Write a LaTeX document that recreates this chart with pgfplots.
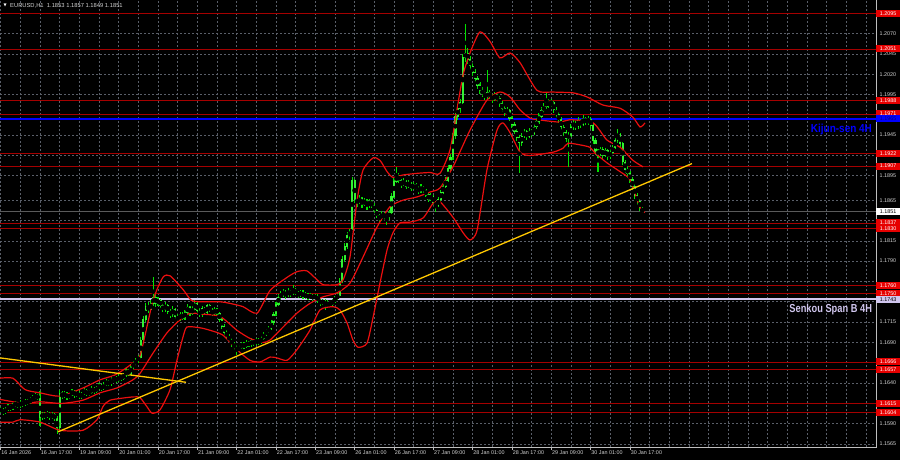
\documentclass[border=0pt]{standalone}
\usepackage{fontspec}
\setmainfont{Liberation Sans}
\newfontfamily\dejavu{DejaVu Sans}
\usepackage{pgfplots}
\usepackage{pgfplotstable}
\pgfplotsset{compat=1.18}
\definecolor{cg}{RGB}{0,225,0}
\definecolor{cgb}{RGB}{50,240,50}
\definecolor{bbred}{RGB}{235,15,15}
\definecolor{lvl}{RGB}{165,0,0}
\definecolor{boxred}{RGB}{230,0,0}
\definecolor{gridc}{RGB}{90,95,105}
\definecolor{tickc}{RGB}{210,210,210}
\definecolor{framec}{RGB}{190,190,190}
\definecolor{kblue}{RGB}{0,0,255}
\definecolor{navy}{RGB}{0,0,130}
\definecolor{lav}{RGB}{208,198,238}
\definecolor{yel}{RGB}{255,200,0}
\definecolor{bidc}{RGB}{90,90,90}
\newcommand\pfont{\fontsize{5.4}{6}\selectfont}
\newcommand\tfont{\fontsize{5.4}{6}\selectfont}

\pgfplotstableread{
i o h l c
1 1.1608 1.1611 1.1603 1.1606
2 1.1606 1.1609 1.1601 1.1604
3 1.1604 1.1610 1.1602 1.1608
4 1.1608 1.1614 1.1606 1.1611
5 1.1611 1.1613 1.1606 1.1609
6 1.1609 1.1616 1.1607 1.1613
7 1.1613 1.1618 1.1611 1.1615
8 1.1615 1.1617 1.1609 1.1612
9 1.1612 1.1619 1.1610 1.1616
10 1.1616 1.1618 1.1611 1.1614
11 1.1614 1.1621 1.1612 1.1618
12 1.1618 1.1620 1.1613 1.1616
13 1.1616 1.1623 1.1614 1.1620
14 1.1620 1.1625 1.1618 1.1622
15 1.1622 1.1628 1.1620 1.1625
16 1.1625 1.1627 1.1619 1.1621
17 1.1621 1.1630 1.1587 1.1598
18 1.1598 1.1605 1.1595 1.1602
19 1.1602 1.1604 1.1596 1.1599
20 1.1599 1.1606 1.1597 1.1603
21 1.1603 1.1605 1.1595 1.1598
22 1.1598 1.1604 1.1596 1.1601
23 1.1601 1.1603 1.1594 1.1597
24 1.1597 1.1600 1.1577 1.1585
25 1.1585 1.1632 1.1583 1.1628
26 1.1628 1.1630 1.1620 1.1624
27 1.1624 1.1630 1.1622 1.1627
28 1.1627 1.1629 1.1619 1.1622
29 1.1622 1.1628 1.1620 1.1626
30 1.1626 1.1633 1.1624 1.1630
31 1.1630 1.1632 1.1622 1.1625
32 1.1625 1.1631 1.1623 1.1628
33 1.1628 1.1630 1.1620 1.1623
34 1.1623 1.1629 1.1621 1.1627
35 1.1627 1.1634 1.1625 1.1631
36 1.1631 1.1633 1.1624 1.1626
37 1.1626 1.1632 1.1624 1.1629
38 1.1629 1.1636 1.1627 1.1633
39 1.1633 1.1635 1.1627 1.1630
40 1.1630 1.1637 1.1628 1.1634
41 1.1634 1.1640 1.1632 1.1637
42 1.1637 1.1639 1.1630 1.1633
43 1.1633 1.1641 1.1631 1.1638
44 1.1638 1.1645 1.1636 1.1642
45 1.1642 1.1644 1.1636 1.1639
46 1.1639 1.1647 1.1637 1.1644
47 1.1644 1.1650 1.1642 1.1647
48 1.1647 1.1649 1.1640 1.1643
49 1.1643 1.1651 1.1641 1.1648
50 1.1648 1.1650 1.1643 1.1646
51 1.1646 1.1653 1.1644 1.1650
52 1.1650 1.1658 1.1648 1.1655
53 1.1655 1.1657 1.1649 1.1652
54 1.1652 1.1663 1.1650 1.1660
55 1.1660 1.1667 1.1657 1.1664
56 1.1664 1.1671 1.1661 1.1668
57 1.1668 1.1675 1.1665 1.1672
58 1.1672 1.1697 1.1670 1.1693
59 1.1693 1.1722 1.1690 1.1718
60 1.1718 1.1738 1.1715 1.1734
61 1.1734 1.1740 1.1726 1.1730
62 1.1730 1.1742 1.1728 1.1738
63 1.1738 1.1770 1.1735 1.1745
64 1.1745 1.1750 1.1734 1.1738
65 1.1738 1.1746 1.1735 1.1742
66 1.1742 1.1744 1.1732 1.1735
67 1.1735 1.1738 1.1727 1.1730
68 1.1730 1.1740 1.1728 1.1736
69 1.1736 1.1738 1.1725 1.1728
70 1.1728 1.1731 1.1720 1.1724
71 1.1724 1.1735 1.1722 1.1731
72 1.1731 1.1733 1.1719 1.1722
73 1.1722 1.1725 1.1714 1.1718
74 1.1718 1.1728 1.1716 1.1725
75 1.1725 1.1727 1.1717 1.1720
76 1.1720 1.1730 1.1718 1.1727
77 1.1727 1.1737 1.1725 1.1733
78 1.1733 1.1735 1.1723 1.1726
79 1.1726 1.1735 1.1724 1.1731
80 1.1731 1.1742 1.1729 1.1738
81 1.1738 1.1740 1.1726 1.1729
82 1.1729 1.1732 1.1721 1.1724
83 1.1724 1.1735 1.1722 1.1732
84 1.1732 1.1734 1.1724 1.1727
85 1.1727 1.1738 1.1725 1.1735
86 1.1735 1.1737 1.1727 1.1730
87 1.1730 1.1732 1.1722 1.1725
88 1.1725 1.1734 1.1723 1.1731
89 1.1731 1.1733 1.1723 1.1726
90 1.1726 1.1728 1.1715 1.1718
91 1.1718 1.1720 1.1707 1.1710
92 1.1710 1.1713 1.1699 1.1702
93 1.1702 1.1705 1.1695 1.1698
94 1.1698 1.1700 1.1690 1.1693
95 1.1693 1.1696 1.1685 1.1688
96 1.1688 1.1691 1.1681 1.1684
97 1.1684 1.1687 1.1675 1.1680
98 1.1680 1.1687 1.1678 1.1684
99 1.1684 1.1691 1.1682 1.1688
100 1.1688 1.1690 1.1682 1.1685
101 1.1685 1.1693 1.1683 1.1690
102 1.1690 1.1692 1.1684 1.1687
103 1.1687 1.1695 1.1685 1.1692
104 1.1692 1.1694 1.1686 1.1689
105 1.1689 1.1696 1.1687 1.1693
106 1.1693 1.1695 1.1687 1.1690
107 1.1690 1.1698 1.1688 1.1695
108 1.1695 1.1703 1.1693 1.1700
109 1.1700 1.1707 1.1698 1.1704
110 1.1704 1.1710 1.1701 1.1707
111 1.1707 1.1717 1.1705 1.1714
112 1.1714 1.1728 1.1712 1.1725
113 1.1725 1.1740 1.1723 1.1737
114 1.1737 1.1749 1.1735 1.1746
115 1.1746 1.1753 1.1743 1.1749
116 1.1749 1.1756 1.1746 1.1752
117 1.1752 1.1754 1.1744 1.1748
118 1.1748 1.1757 1.1746 1.1753
119 1.1753 1.1755 1.1746 1.1750
120 1.1750 1.1761 1.1748 1.1755
121 1.1755 1.1757 1.1748 1.1751
122 1.1751 1.1753 1.1745 1.1748
123 1.1748 1.1755 1.1746 1.1752
124 1.1752 1.1754 1.1743 1.1746
125 1.1746 1.1752 1.1744 1.1749
126 1.1749 1.1751 1.1742 1.1745
127 1.1745 1.1751 1.1743 1.1748
128 1.1748 1.1750 1.1741 1.1744
129 1.1744 1.1750 1.1742 1.1747
130 1.1747 1.1749 1.1739 1.1742
131 1.1742 1.1744 1.1735 1.1738
132 1.1738 1.1744 1.1736 1.1741
133 1.1741 1.1743 1.1730 1.1735
134 1.1735 1.1742 1.1733 1.1739
135 1.1739 1.1741 1.1734 1.1737
136 1.1737 1.1744 1.1735 1.1741
137 1.1741 1.1747 1.1739 1.1744
138 1.1744 1.1751 1.1742 1.1748
139 1.1748 1.1769 1.1746 1.1765
140 1.1765 1.1796 1.1763 1.1792
141 1.1792 1.1812 1.1789 1.1808
142 1.1808 1.1826 1.1805 1.1822
143 1.1822 1.1830 1.1816 1.1826
144 1.1830 1.1893 1.1828 1.1889
145 1.1889 1.1891 1.1862 1.1866
146 1.1866 1.1870 1.1857 1.1862
147 1.1862 1.1871 1.1860 1.1867
148 1.1867 1.1869 1.1855 1.1860
149 1.1860 1.1868 1.1858 1.1864
150 1.1864 1.1866 1.1853 1.1858
151 1.1858 1.1867 1.1856 1.1863
152 1.1863 1.1865 1.1855 1.1859
153 1.1859 1.1861 1.1849 1.1852
154 1.1852 1.1854 1.1843 1.1846
155 1.1846 1.1848 1.1838 1.1842
156 1.1842 1.1852 1.1840 1.1848
157 1.1848 1.1850 1.1841 1.1845
158 1.1845 1.1847 1.1835 1.1843
159 1.1843 1.1853 1.1841 1.1850
160 1.1850 1.1874 1.1848 1.1870
161 1.1870 1.1892 1.1868 1.1888
162 1.1888 1.1906 1.1886 1.1895
163 1.1895 1.1898 1.1886 1.1889
164 1.1889 1.1891 1.1880 1.1884
165 1.1884 1.1892 1.1882 1.1888
166 1.1888 1.1890 1.1879 1.1882
167 1.1882 1.1890 1.1880 1.1886
168 1.1886 1.1888 1.1876 1.1879
169 1.1879 1.1887 1.1877 1.1884
170 1.1884 1.1886 1.1877 1.1880
171 1.1880 1.1882 1.1873 1.1876
172 1.1876 1.1885 1.1874 1.1881
173 1.1881 1.1883 1.1874 1.1877
174 1.1877 1.1879 1.1869 1.1872
175 1.1872 1.1874 1.1863 1.1866
176 1.1866 1.1874 1.1864 1.1870
177 1.1870 1.1872 1.1859 1.1862
178 1.1862 1.1864 1.1851 1.1858
179 1.1858 1.1869 1.1856 1.1866
180 1.1866 1.1878 1.1864 1.1874
181 1.1874 1.1886 1.1872 1.1882
182 1.1882 1.1893 1.1880 1.1889
183 1.1889 1.1908 1.1887 1.1904
184 1.1904 1.1922 1.1901 1.1918
185 1.1918 1.1948 1.1915 1.1944
186 1.1944 1.1972 1.1940 1.1968
187 1.1968 1.1983 1.1964 1.1978
188 1.1978 1.1990 1.1972 1.1985
189 1.1985 1.2045 1.1983 1.2040
190 1.2040 1.2082 1.2035 1.2046
191 1.2046 1.2052 1.2033 1.2038
192 1.2038 1.2042 1.2025 1.2030
193 1.2030 1.2034 1.2018 1.2022
194 1.2022 1.2026 1.2011 1.2015
195 1.2015 1.2018 1.2002 1.2006
196 1.2006 1.2010 1.1996 1.2000
197 1.2000 1.2004 1.1992 1.1996
198 1.1996 1.1999 1.1988 1.1992
199 1.1992 1.2025 1.1990 1.1997
200 1.1997 1.2001 1.1989 1.1993
201 1.1993 1.1996 1.1985 1.1989
202 1.1989 1.1998 1.1987 1.1994
203 1.1994 1.1996 1.1986 1.1990
204 1.1990 1.1993 1.1980 1.1984
205 1.1984 1.1987 1.1974 1.1978
206 1.1978 1.1981 1.1968 1.1972
207 1.1972 1.1979 1.1970 1.1975
208 1.1975 1.1977 1.1962 1.1966
209 1.1966 1.1969 1.1954 1.1958
210 1.1958 1.1961 1.1946 1.1950
211 1.1950 1.1953 1.1938 1.1942
212 1.1942 1.1945 1.1899 1.1936
213 1.1936 1.1948 1.1932 1.1944
214 1.1944 1.1953 1.1941 1.1949
215 1.1949 1.1951 1.1939 1.1943
216 1.1943 1.1954 1.1941 1.1950
217 1.1950 1.1952 1.1943 1.1947
218 1.1947 1.1959 1.1945 1.1955
219 1.1955 1.1966 1.1953 1.1962
220 1.1962 1.1972 1.1959 1.1968
221 1.1968 1.1979 1.1966 1.1975
222 1.1975 1.1984 1.1972 1.1980
223 1.1980 1.1998 1.1977 1.1986
224 1.1986 1.1989 1.1978 1.1982
225 1.1982 1.1990 1.1980 1.1985
226 1.1985 1.1987 1.1972 1.1976
227 1.1976 1.1979 1.1966 1.1970
228 1.1970 1.1973 1.1960 1.1964
229 1.1964 1.1967 1.1951 1.1955
230 1.1955 1.1958 1.1944 1.1948
231 1.1948 1.1951 1.1937 1.1941
232 1.1941 1.1949 1.1906 1.1945
233 1.1945 1.1959 1.1943 1.1955
234 1.1955 1.1964 1.1952 1.1960
235 1.1960 1.1962 1.1951 1.1955
236 1.1955 1.1967 1.1953 1.1963
237 1.1963 1.1965 1.1954 1.1958
238 1.1958 1.1970 1.1956 1.1966
239 1.1966 1.1968 1.1957 1.1960
240 1.1960 1.1969 1.1958 1.1965
241 1.1965 1.1967 1.1953 1.1957
242 1.1957 1.1960 1.1934 1.1938
243 1.1938 1.1941 1.1921 1.1925
244 1.1925 1.1928 1.1900 1.1922
245 1.1922 1.1931 1.1919 1.1928
246 1.1928 1.1930 1.1916 1.1920
247 1.1920 1.1929 1.1918 1.1926
248 1.1926 1.1928 1.1914 1.1918
249 1.1918 1.1927 1.1916 1.1924
250 1.1924 1.1933 1.1922 1.1930
251 1.1930 1.1941 1.1928 1.1938
252 1.1938 1.1953 1.1936 1.1946
253 1.1946 1.1948 1.1931 1.1935
254 1.1935 1.1937 1.1908 1.1912
255 1.1912 1.1915 1.1899 1.1903
256 1.1903 1.1907 1.1894 1.1898
257 1.1898 1.1901 1.1886 1.1890
258 1.1890 1.1893 1.1877 1.1882
259 1.1882 1.1885 1.1866 1.1871
260 1.1871 1.1874 1.1859 1.1864
261 1.1864 1.1867 1.1852 1.1856
262 1.1853 1.1857 1.1849 1.1851
}\candles

\newcommand\rlab[1]{\node[anchor=west, fill=boxred, text=white, inner sep=0pt, minimum width=24pt, minimum height=7pt, font=\pfont] at (axis cs:357.08,#1) {#1};}
\newcommand\glab[1]{\node[anchor=west, text=tickc, inner sep=0pt, xshift=3.3pt, font=\pfont] at (axis cs:357.08,#1) {#1};}
\newcommand\tl[2]{\draw[framec, line width=0.6pt] (axis cs:#1,1.15614) -- ++(0pt,-3pt) node[anchor=north west, inner sep=0pt, xshift=0.5pt, yshift=-0.8pt, text=tickc, font=\tfont] {#2};}
\newcommand\lvline[1]{\addplot[lvl, line width=0.8pt] coordinates {(0.727,#1) (357.08,#1)};}

\begin{document}
\begin{tikzpicture}
\fill[black] (0,0) rectangle (900pt,460pt);
\begin{axis}[
  at={(0pt,13pt)}, anchor=south west,
  scale only axis, width=876pt, height=447pt,
  xmin=0.727, xmax=357.08, ymin=1.15614, ymax=1.21112,
  axis line style={draw=none},
  xtick={1,9,...,353},
  ytick={1.1565,1.1590,1.1615,1.1640,1.1665,1.1690,1.1715,1.1740,1.1765,1.1790,1.1815,1.1840,1.1865,1.1895,1.1920,1.1945,1.1970,1.1995,1.2020,1.2045,1.2070,1.2095},
  xticklabels={}, yticklabels={},
  scaled y ticks=false, scaled x ticks=false,
  major tick length=0pt,
  grid=major,
  grid style={gridc, dash pattern=on 2pt off 2pt, line width=0.6pt},
  clip=false,
]
% horizontal levels
\lvline{1.2095}
\lvline{1.2051}
\lvline{1.1988}
\lvline{1.1971}
\lvline{1.1922}
\lvline{1.1907}
\lvline{1.1837}
\lvline{1.1830}
\lvline{1.1760}
\lvline{1.1750}
\lvline{1.1666}
\lvline{1.1657}
\lvline{1.1615}
\lvline{1.1604}
\addplot[bidc, line width=1pt] coordinates {(0.727,1.1851) (357.08,1.1851)};
\addplot[lav, line width=1.8pt] coordinates {(0.727,1.1743) (357.08,1.1743)};
\addplot[kblue, line width=2pt] coordinates {(0.727,1.1965) (357.08,1.1965)};

% candles: wicks
\addplot[only marks, mark=none, error bars/.cd, y dir=both, y explicit, error mark=none,
  error bar style={draw=cg, line width=1.1pt}]
  table[x=i, y expr={(\thisrow{h}+\thisrow{l})/2}, y error expr={(\thisrow{h}-\thisrow{l})/2}] {\candles};
% candles: bodies
\addplot[only marks, mark=none, error bars/.cd, y dir=both, y explicit, error mark=none,
  error bar style={draw=cgb, line width=2.2pt}]
  table[x=i, y expr={(\thisrow{o}+\thisrow{c})/2}, y error expr={abs(\thisrow{c}-\thisrow{o})/2+0.00005}] {\candles};

% bands
\addplot[bbred, line width=1.2pt, smooth, tension=0.4] coordinates {
(0.727,1.1646) (6.0,1.1646) (10.9,1.1632) (17.0,1.1628) (25.1,1.1624) (34.5,1.1634) (41.4,1.1644) (47.5,1.1650) (53.6,1.1662) (57.7,1.1674) (63.0,1.1742) (67.0,1.1770) (69.9,1.1772) (75.2,1.1755) (78.5,1.1742) (82.1,1.1740) (90.2,1.1740) (94.3,1.1738) (99.6,1.1734) (105.3,1.1726) (110.6,1.1754) (117.5,1.1770) (121.5,1.1777) (125.6,1.1778) (129.7,1.1767) (132.1,1.1761) (137.8,1.1761) (140.3,1.1767) (143.1,1.1795) (146.0,1.1865) (148.4,1.1902) (152.5,1.1917) (155.3,1.1914) (158.2,1.1900) (160.6,1.1893) (164.7,1.1896) (170.4,1.1898) (175.7,1.1899) (179.7,1.1898) (183.8,1.1927) (186.6,1.1976) (189.1,1.2019) (191.9,1.2046) (196.0,1.2072) (200.1,1.2060) (204.1,1.2040) (208.2,1.2046) (212.3,1.2034) (219.2,1.2000) (225.7,1.1998) (233.8,1.1997) (239.5,1.1992) (246.0,1.1982) (253.0,1.1978) (258.2,1.1967) (261.1,1.1955) (263.1,1.1960)};
\addplot[bbred, line width=1.2pt, smooth, tension=0.4] coordinates {
(0.727,1.1620) (6.0,1.1617) (10.9,1.1615) (17.0,1.1617) (25.9,1.1615) (34.5,1.1619) (41.4,1.1628) (48.3,1.1634) (54.8,1.1644) (57.7,1.1652) (63.0,1.1677) (68.7,1.1702) (74.0,1.1718) (78.0,1.1726) (82.1,1.1725) (90.2,1.1722) (97.1,1.1705) (102.4,1.1695) (107.7,1.1690) (110.6,1.1693) (115.9,1.1709) (121.5,1.1726) (126.8,1.1738) (132.1,1.1746) (137.8,1.1751) (143.1,1.1763) (148.4,1.1795) (154.1,1.1832) (159.4,1.1857) (164.7,1.1865) (170.4,1.1869) (175.7,1.1875) (179.7,1.1880) (185.0,1.1906) (191.9,1.1951) (198.8,1.1988) (204.1,1.1998) (208.2,1.1992) (212.3,1.1976) (216.3,1.1966) (219.2,1.1964) (228.5,1.1961) (232.6,1.1964) (242.0,1.1960) (247.6,1.1939) (253.0,1.1930) (258.2,1.1914) (262.3,1.1906)};
\addplot[bbred, line width=1.2pt, smooth, tension=0.4] coordinates {
(0.727,1.1592) (6.0,1.1592) (8.9,1.1595) (17.0,1.1592) (25.1,1.1582) (34.5,1.1582) (40.2,1.1595) (42.6,1.1611) (45.5,1.1619) (54.8,1.1623) (57.7,1.1622) (60.5,1.1611) (62.6,1.1603) (65.8,1.1607) (69.9,1.1632) (72.7,1.1668) (75.2,1.1697) (76.8,1.1709) (82.1,1.1708) (86.1,1.1705) (91.4,1.1699) (97.1,1.1681) (102.4,1.1668) (106.5,1.1666) (110.6,1.1672) (113.4,1.1671) (117.5,1.1668) (121.5,1.1681) (126.8,1.1705) (130.9,1.1730) (136.2,1.1734) (139.0,1.1730) (141.9,1.1714) (144.3,1.1693) (146.4,1.1684) (150.0,1.1689) (152.5,1.1721) (155.3,1.1763) (158.2,1.1804) (160.6,1.1825) (163.4,1.1837) (167.5,1.1838) (172.8,1.1843) (176.9,1.1861) (179.7,1.1863) (185.0,1.1844) (189.1,1.1825) (191.9,1.1816) (194.8,1.1828) (198.8,1.1902) (202.9,1.1951) (205.3,1.1960) (208.2,1.1948) (212.3,1.1924) (216.3,1.1920) (225.7,1.1924) (229.8,1.1929) (231.8,1.1935) (236.7,1.1933) (240.7,1.1930) (242.8,1.1923) (247.6,1.1911) (253.0,1.1900) (257.0,1.1890) (261.1,1.1856) (263.1,1.1850)};

% trend lines
\addplot[yel, line width=1.3pt] coordinates {(24.3,1.1580) (282.2,1.1910)};
\addplot[yel, line width=1.3pt] coordinates {(0.727,1.1671) (76.4,1.1641)};

% frame
\draw[framec, line width=0.8pt] (rel axis cs:0,0) -- (rel axis cs:1,0) -- (rel axis cs:1,1);

% right price labels
\glab{1.2070}
\glab{1.2045}
\glab{1.2020}
\glab{1.1995}
\glab{1.1945}
\glab{1.1895}
\glab{1.1865}
\glab{1.1815}
\glab{1.1790}
\glab{1.1715}
\glab{1.1690}
\glab{1.1640}
\glab{1.1590}
\glab{1.1565}
\rlab{1.2095}
\rlab{1.2051}
\rlab{1.1988}
\rlab{1.1971}
\node[anchor=west, fill=kblue, text=navy, inner sep=0pt, minimum width=24pt, minimum height=7pt, font=\pfont] at (axis cs:357.08,1.1965) {1.1965};
\rlab{1.1922}
\rlab{1.1907}
\node[anchor=west, fill=white, text=black, inner sep=0pt, minimum width=24pt, minimum height=7pt, font=\pfont] at (axis cs:357.08,1.1851) {1.1851};
\rlab{1.1837}
\rlab{1.1830}
\rlab{1.1760}
\rlab{1.1750}
\node[anchor=west, fill=lav, text=black, inner sep=0pt, minimum width=24pt, minimum height=7pt, font=\pfont] at (axis cs:357.08,1.1743) {1.1743};
\rlab{1.1666}
\rlab{1.1657}
\rlab{1.1615}
\rlab{1.1604}

% line labels
\node[anchor=east, text=kblue, inner sep=0pt, xscale=0.86, font=\fontsize{11.6}{12}\selectfont\bfseries] at (axis cs:355.5,1.1952) {Kijun-sen 4H};
\node[anchor=east, text=lav, inner sep=0pt, xscale=0.8, font=\fontsize{11.6}{12}\selectfont\bfseries] at (axis cs:355.5,1.1730) {Senkou Span B 4H};

% time labels
\tl{1}{16 Jan 2026}
\tl{17}{16 Jan 17:00}
\tl{33}{19 Jan 09:00}
\tl{49}{20 Jan 01:00}
\tl{65}{20 Jan 17:00}
\tl{81}{21 Jan 09:00}
\tl{97}{22 Jan 01:00}
\tl{113}{22 Jan 17:00}
\tl{129}{23 Jan 09:00}
\tl{145}{26 Jan 01:00}
\tl{161}{26 Jan 17:00}
\tl{177}{27 Jan 09:00}
\tl{193}{28 Jan 01:00}
\tl{209}{28 Jan 17:00}
\tl{225}{29 Jan 09:00}
\tl{241}{30 Jan 01:00}
\tl{257}{30 Jan 17:00}
\end{axis}
\node[anchor=west, inner sep=0pt, text=white, font=\dejavu\fontsize{4}{4}\selectfont] at (3.5pt,454.5pt) {▼};
\node[anchor=west, inner sep=0pt, text=tickc, font=\fontsize{5.8}{6}\selectfont] at (10pt,454.5pt) {EURUSD,H1\ \ 1.1853 1.1857 1.1849 1.1851};
\pgfresetboundingbox
\useasboundingbox (0,0) rectangle (900pt,460pt);
\end{tikzpicture}
\end{document}
